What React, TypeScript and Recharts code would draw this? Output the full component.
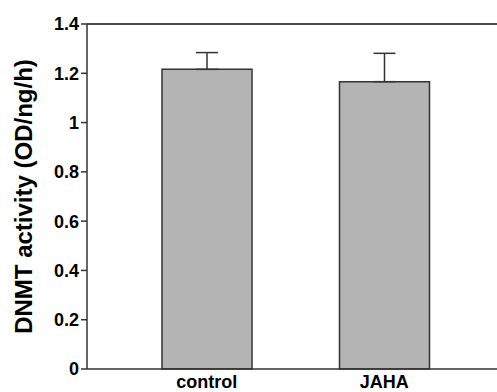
import React from 'react';
import { BarChart, Bar, XAxis, YAxis, ErrorBar, ReferenceLine } from 'recharts';

const groups = ['control', 'JAHA'];
const activity = [1.216, 1.166];
const sem = [0.068, 0.115];
const yTicks = [0, 0.2, 0.4, 0.6, 0.8, 1, 1.2, 1.4];

const data = groups.map((g, i) => ({
  group: g,
  activity: activity[i],
  err: [0, sem[i]],
}));

const font = '"Liberation Sans", Arial, sans-serif';

const YLabel = ({ viewBox }: any) => {
  const cx = viewBox.x + 23;
  const cy = viewBox.y + viewBox.height / 2;
  return (
    <text
      x={cx}
      y={cy}
      transform={`rotate(-90, ${cx}, ${cy})`}
      textAnchor="middle"
      dominantBaseline="central"
      fontFamily={font}
      fontWeight="bold"
      fontSize={24}
      fill="#000"
    >
      DNMT activity (OD/ng/h)
    </text>
  );
};

const App: React.FC = () => {
  return (
    <div style={{ position: 'fixed', left: 0, top: 0, background: '#fff' }}>
      <BarChart
        width={497}
        height={392}
        data={data}
        margin={{ top: 24, right: 0, bottom: 0, left: 0 }}
      >
        <XAxis
          dataKey="group"
          height={23}
          padding={{ left: 31, right: 24 }}
          tickLine={false}
          axisLine={{ stroke: '#333', strokeWidth: 1.5 }}
          tick={{ fontFamily: font, fontWeight: 'bold', fontSize: 18, fill: '#000', dy: -2 }}
          tickMargin={2}
        />
        <YAxis
          width={87}
          domain={[0, 1.4]}
          ticks={yTicks}
          interval={0}
          axisLine={{ stroke: '#333', strokeWidth: 1.5 }}
          tickLine={{ stroke: '#333', strokeWidth: 1.5 }}
          tickSize={6}
          tick={{ fontFamily: font, fontWeight: 'bold', fontSize: 18, fill: '#000' }}
          label={<YLabel />}
        />
        <ReferenceLine y={1.4} stroke="#111" strokeWidth={1.5} />
        <Bar
          dataKey="activity"
          barSize={90}
          fill="#b4b4b4"
          stroke="#333"
          strokeWidth={1.5}
          isAnimationActive={false}
        >
          <ErrorBar dataKey="err" width={11} stroke="#333" strokeWidth={1.5} direction="y" />
        </Bar>
      </BarChart>
    </div>
  );
};

export default App;
